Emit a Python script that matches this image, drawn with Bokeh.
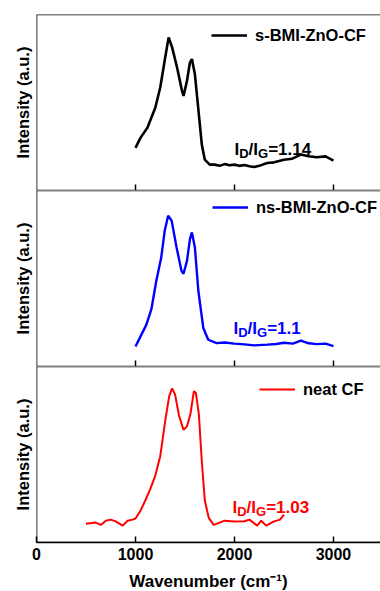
from bokeh.plotting import figure
from bokeh.models import Range1d, FixedTicker, Label, Span
from bokeh.layouts import column
from bokeh.embed import file_html
from bokeh.resources import INLINE

# ---- data ----
s_wn = [1000, 1050, 1120, 1200, 1250, 1300, 1335, 1370, 1420, 1470, 1485, 1520, 1550, 1570,
        1600, 1640, 1670, 1700, 1750, 1800, 1850, 1900, 1950, 2000, 2050, 2100, 2150, 2200,
        2250, 2330, 2400, 2500, 2580, 2670, 2750, 2830, 2920, 3000]
s_int = [0.242, 0.299, 0.356, 0.470, 0.585, 0.756, 0.870, 0.813, 0.699, 0.566, 0.537, 0.623,
         0.727, 0.747, 0.661, 0.432, 0.261, 0.175, 0.147, 0.147, 0.140, 0.150, 0.143, 0.147,
         0.140, 0.145, 0.138, 0.133, 0.140, 0.156, 0.160, 0.175, 0.180, 0.204, 0.195, 0.189,
         0.194, 0.170]

ns_wn = [1000, 1060, 1110, 1160, 1210, 1260, 1295, 1330, 1365, 1415, 1465, 1485, 1520, 1550,
         1570, 1600, 1635, 1685, 1735, 1820, 1900, 2000, 2100, 2200, 2330, 2420, 2500, 2590,
         2670, 2750, 2830, 2920, 3000]
ns_int = [0.114, 0.181, 0.238, 0.324, 0.486, 0.619, 0.771, 0.857, 0.829, 0.676, 0.543, 0.527,
          0.600, 0.724, 0.762, 0.676, 0.429, 0.219, 0.152, 0.133, 0.136, 0.130, 0.126, 0.120,
          0.124, 0.128, 0.135, 0.130, 0.147, 0.132, 0.127, 0.130, 0.116]

cf_wn = [500, 600, 650, 700, 750, 800, 870, 920, 970, 1000, 1050, 1100, 1150, 1200, 1250, 1300,
         1340, 1370, 1400, 1440, 1485, 1520, 1555, 1590, 1610, 1640, 1670, 1700, 1740, 1790,
         1850, 1900, 2000, 2100, 2150, 2230, 2270, 2320, 2400, 2460, 2500]
cf_int = [0.107, 0.113, 0.100, 0.124, 0.130, 0.120, 0.096, 0.124, 0.130, 0.136, 0.180, 0.240,
          0.305, 0.380, 0.490, 0.690, 0.830, 0.876, 0.840, 0.720, 0.640, 0.660, 0.730, 0.860,
          0.850, 0.730, 0.460, 0.240, 0.140, 0.100, 0.113, 0.124, 0.120, 0.121, 0.130, 0.096,
          0.124, 0.096, 0.120, 0.130, 0.158]

series_names = ["s-BMI-ZnO-CF", "ns-BMI-ZnO-CF", "neat CF"]
series_colors = ["black", "#0000FF", "#FF0000"]
ratio_values = ["1.14", "1.1", "1.03"]
ratio_x = [2000, 1990, 1980]
ratio_y = [0.234, 0.217, 0.198]
ratio_sub_y = [0.211, 0.194, 0.175]
x_ticks = [0, 1000, 2000, 3000]

FONT = "Liberation Sans"
# Arial/Liberation Sans Bold advance widths (per 1000 em)
ADV = {"I": 278, "D": 722, "/": 278, "G": 778}

FRAME_H = 176
TICK_LEN = 6
# legend box placement (screen px from the frame's bottom-left corner)
legend_pos = [(175, 145), (176, 149), (223, 143)]


def make_fig(top_border, last):
    p = figure(frame_width=344, frame_height=FRAME_H, x_range=Range1d(0, 3475),
               y_range=Range1d(0, 1), output_backend="svg", toolbar_location=None,
               min_border_left=36, min_border_right=0, min_border_top=top_border,
               min_border_bottom=49 if last else 0,
               x_axis_location="below" if last else None)
    p.outline_line_color = None
    p.xgrid.visible = False
    p.ygrid.visible = False
    p.background_fill_color = "white"
    p.border_fill_color = "white"
    # y axis: only carries the label (frame line drawn with a Span)
    ya = p.yaxis[0]
    ya.ticker = FixedTicker(ticks=[])
    ya.major_tick_out = 0
    ya.major_tick_in = 0
    ya.minor_tick_out = 0
    ya.minor_tick_in = 0
    ya.major_label_standoff = 0
    ya.axis_line_color = None
    ya.bounds = (0.15, 1.0)
    ya.axis_label = "Intensity (a.u.)"
    ya.axis_label_text_font = FONT
    ya.axis_label_text_font_style = "bold"
    ya.axis_label_text_font_size = "16.5px"
    ya.axis_label_text_color = "black"
    ya.axis_label_standoff = 5
    # frame lines (left, bottom, top)
    p.add_layout(Span(location=0, dimension="height", line_color="black", line_width=1.6))
    p.add_layout(Span(location=0, dimension="width", line_color="black", line_width=1.6))
    p.add_layout(Span(location=1, dimension="width", line_color="black", line_width=1.6))
    if last:
        xa = p.xaxis[0]
        xa.ticker = FixedTicker(ticks=x_ticks)
        xa.major_tick_in = TICK_LEN
        xa.major_tick_out = 0
        xa.major_tick_line_width = 1.5
        xa.minor_tick_in = 0
        xa.minor_tick_out = 0
        xa.axis_line_width = 1.6
        xa.axis_line_color = "black"
        xa.major_label_text_font = FONT
        xa.major_label_text_font_style = "bold"
        xa.major_label_text_font_size = "16px"
        xa.major_label_text_color = "black"
        xa.major_label_standoff = 5
        xa.axis_label = "Wavenumber (cm\u207b\u00b9)"
        xa.axis_label_text_font = FONT
        xa.axis_label_text_font_style = "bold"
        xa.axis_label_text_font_size = "17px"
        xa.axis_label_text_color = "black"
        xa.axis_label_standoff = 9
    else:
        # inward tick marks along the bottom edge
        g = p.xgrid[0]
        g.visible = True
        g.ticker = FixedTicker(ticks=x_ticks[1:])
        g.grid_line_color = "black"
        g.grid_line_width = 1.5
        g.cross_bounds = (0, TICK_LEN / FRAME_H)
    return p


figs = []
data = [(s_wn, s_int), (ns_wn, ns_int), (cf_wn, cf_int)]
lw = [2.6, 2.4, 2.0]
for i in range(3):
    p = make_fig(14 if i == 0 else 0, i == 2)
    wn, inten = data[i]
    p.line(wn, inten, line_color=series_colors[i], line_width=lw[i], legend_label=series_names[i])
    lg = p.legend[0]
    lg.location = legend_pos[i]
    lg.border_line_color = None
    lg.background_fill_alpha = 0
    lg.margin = 0
    lg.padding = 2
    lg.spacing = 0
    lg.glyph_width = 36
    lg.glyph_height = 20
    lg.label_height = 20
    lg.label_standoff = 8
    lg.label_text_font = FONT
    lg.label_text_font_style = "bold"
    lg.label_text_font_size = "16.5px"
    lg.label_text_color = "black"
    lg.label_text_baseline = "middle"

    # I_D/I_G annotation
    parts = [("I", 17, False), ("D", 13, True), ("/", 17, False), ("I", 17, False),
             ("G", 13, True), ("=" + ratio_values[i], 17, False)]
    off = 0.0
    for txt, size, sub in parts:
        p.add_layout(Label(x=ratio_x[i], y=ratio_sub_y[i] if sub else ratio_y[i],
                           x_units="data", y_units="data", x_offset=off, text=txt,
                           text_align="left", text_baseline="alphabetic", text_font=FONT,
                           text_font_style="bold", text_font_size=f"{size}px",
                           text_color=series_colors[i]))
        if len(txt) == 1 and txt in ADV:
            off += ADV[txt] / 1000 * size
    figs.append(p)

layout = column(*figs, spacing=0)
open("out.html", "w").write(file_html(layout, INLINE))
